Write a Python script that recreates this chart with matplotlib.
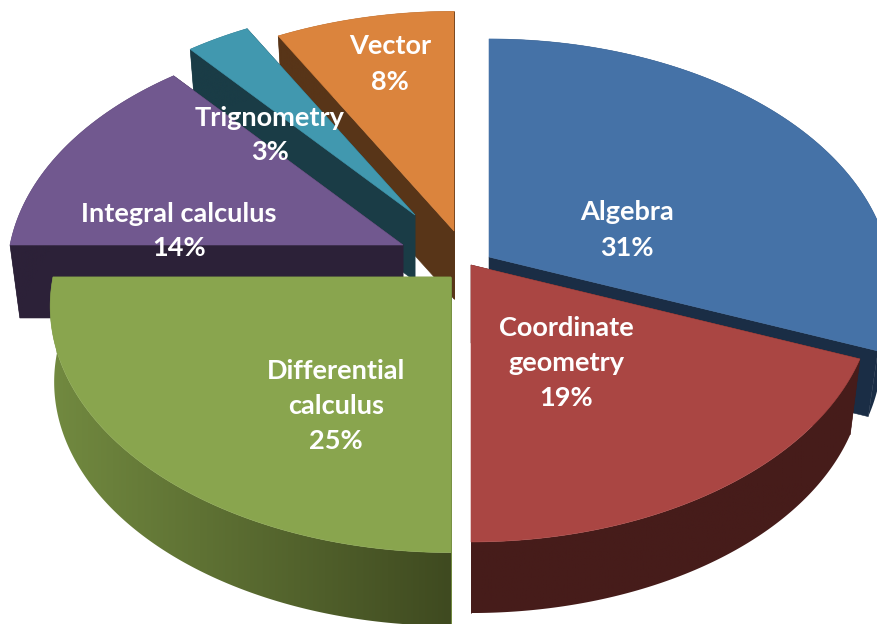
#!/usr/bin/env python3
"""
Exploded 3D-look pie of syllabus topics, drawn with plain polygons
"""

import numpy as np
import matplotlib
matplotlib.use('Agg')
import matplotlib.pyplot as plt
from matplotlib.colors import to_rgb
from matplotlib.patches import Polygon

# data
categories = ['Algebra', 'Coordinate\ngeometry', 'Differential\ncalculus',
              'Integral calculus', 'Trignometry', 'Vector']
values = [31, 19, 25, 14, 3, 8]

# look of every slice, same order as categories
top_colors = ['#4572A7', '#AA4643', '#89A54E', '#71588F', '#4198AF', '#DB843D']
side_left = ['#1A2D45', '#461C1A', '#728A40', '#2C2138', '#1A3C46', '#583518']
side_right = ['#1A2D45', '#461C1A', '#3F4A20', '#2C2138', '#1A3C46', '#583518']
apex = [(489, 257), (471, 265), (451, 277), (403, 245), (415, 215), (454, 231)]
radius = [400, 400, 398, 393, 385, 403]
depth = [68, 78, 76, 73, 66, 68]
shrink = [0.975, 0.975, 0.99, 0.975, 0.975, 0.975]    # lower face is a bit narrower
label_pos = [(627, 230), (566, 363), (336, 406), (179, 231), (270, 135), (390, 64)]
draw_order = [5, 4, 3, 0, 2, 1]

TILT_A = 244.0    # vertical scale of the disc
TILT_K = 0.119    # perspective, back of the disc gets smaller

edges = np.cumsum([0] + values) / sum(values) * 2 * np.pi


def project(t, r, c):
    """clockwise angle from the top -> picture coordinates on the top face"""
    xw = r * np.sin(t)
    yw = np.cos(t)
    w = 1 + TILT_K * yw
    return c[0] + xw / w, c[1] - (r / 400) * TILT_A * yw / w


fig = plt.figure(figsize=(8.78, 6.24), dpi=100)
ax = fig.add_axes([0, 0, 1, 1])
ax.axis('off')

z = 1
for i in draw_order:
    c = apex[i]
    d = depth[i]
    t = np.linspace(edges[i], edges[i + 1], 200)
    px, py = project(t, radius[i], c)
    bx = c[0] + shrink[i] * (px - c[0])
    by = c[1] + shrink[i] * (py - c[1]) + d

    # the two cut faces
    for k in (0, -1):
        ax.fill([c[0], px[k], bx[k], c[0]], [c[1], py[k], by[k], c[1] + d],
                color=side_left[i], linewidth=0.4, zorder=z)

    # outer rim, shaded from left to right
    xs = np.r_[px, bx[::-1]]
    ys = np.r_[py, by[::-1]]
    grad = np.linspace(to_rgb(side_left[i]), to_rgb(side_right[i]), 256)[np.newaxis, :, :]
    im = ax.imshow(grad, extent=[xs.min(), xs.max(), ys.max(), ys.min()],
                   aspect='auto', zorder=z + 0.1)
    im.set_clip_path(Polygon(np.c_[xs, ys], transform=ax.transData))

    # top face
    ax.fill(np.r_[c[0], px], np.r_[c[1], py], color=top_colors[i],
            linewidth=0.4, zorder=z + 0.2)
    z += 1

for name, val, pos in zip(categories, values, label_pos):
    ax.text(pos[0], pos[1], f'{name}\n{val}%', color='white', fontsize=19.5,
            fontfamily='Lato', fontweight='bold', ha='center', va='center',
            linespacing=1.55, zorder=z)

ax.set_xlim(0, 878)
ax.set_ylim(624, 0)

fig.savefig('out.png', dpi=100, facecolor='white')
